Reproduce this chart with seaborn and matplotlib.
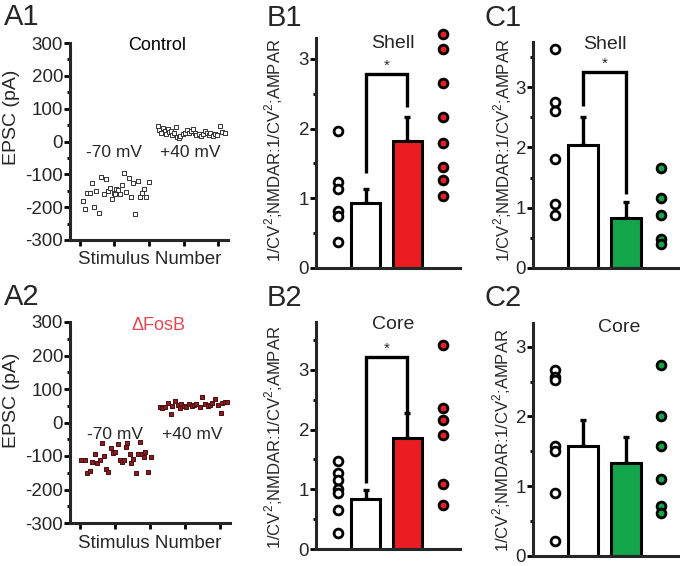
import numpy as np
import pandas as pd
import matplotlib
matplotlib.use("Agg")
import matplotlib.pyplot as plt
import seaborn as sns
from matplotlib.ticker import MultipleLocator, NullFormatter

sns.set_style("ticks")
plt.rcParams['font.family'] = ['Liberation Sans', 'DejaVu Sans']
plt.rcParams['mathtext.fontset'] = 'custom'
plt.rcParams['mathtext.rm'] = 'Liberation Sans'
plt.rcParams['axes.unicode_minus'] = False

# ==============================
# DATA
# ==============================
# A1 - control cell
ctrl_m70_stim = [1.3, 2.3, 3.2, 4.3, 5.4, 6.2, 7.1, 8.3, 9.1, 10.3, 11.2, 12.2, 13.0, 14.1,
                 14.9, 15.1, 15.7, 16.5, 17.5, 18.3, 19.0, 20.0, 21.2, 22.2, 23.0, 24.1,
                 25.2, 26.1, 26.9, 27.7, 28.5, 30.1]
ctrl_m70_epsc = [-180, -206, -156, -156, -127, -200, -151, -219, -109, -160, -114, -150, -142, -175,
                 -156, -160, -145, -149, -161, -132, -95, -153, -112, -168, -127, -220,
                 -119, -170, -156, -145, -170, -124]
ctrl_p40_stim = [33.9, 34.5, 35.4, 36.0, 36.8, 37.5, 38.3, 38.8, 39.7, 40.0, 40.7, 41.7, 42.3,
                 42.9, 43.6, 44.6, 45.5, 46.5, 47.2, 48.1, 49.0, 49.9, 50.6, 51.6, 52.5, 53.3,
                 54.2, 55.1, 55.9, 56.7, 57.7, 58.5, 59.7, 60.7, 61.7, 62.9]
ctrl_p40_epsc = [48, 35, 25, 40, 32, 23, 37, 28, 33, 20, 25, 45, 15,
                 10, 18, 23, 27, 35, 25, 32, 37, 25, 20, 23, 18, 22,
                 33, 27, 20, 25, 18, 23, 20, 48, 30, 25]

# A2 - deltaFosB cell
fosb_m70_stim = [0.6, 2.0, 3.2, 4.3, 5.2, 6.3, 7.2, 8.4, 9.4, 10.3, 11.3, 12.0, 13.2, 14.2,
                 15.2, 16.3, 17.2, 18.0, 18.9, 19.5, 20.3, 21.3, 22.0, 22.9, 24.0, 24.9,
                 25.6, 26.6, 27.3, 28.0, 29.2, 30.3]
fosb_m70_epsc = [-112, -112, -150, -144, -117, -94, -122, -112, -62, -100, -140, -147, -77, -90,
                 -87, -65, -112, -117, -112, -72, -62, -94, -120, -110, -152, -94,
                 -57, -94, -102, -89, -147, -102]
fosb_p40_stim = [34.2, 35.3, 36.3, 37.8, 38.9, 39.5, 40.6, 41.8, 42.8, 43.5, 44.6, 45.6, 46.6,
                 47.8, 48.9, 49.9, 51.4, 52.4, 53.5, 54.7, 55.7, 56.7, 57.8, 59.0, 60.4,
                 61.0, 62.1, 63.2]
fosb_p40_epsc = [45, 42, 47, 57, 25, 49, 65, 52, 42, 55, 49, 47, 55,
                 49, 52, 55, 47, 77, 55, 49, 52, 57, 69, 52, 27,
                 57, 62, 62]

# B/C - 1/CV2 ratios, individual cells
b1_ctrl = [1.96, 1.24, 1.14, 0.82, 0.74, 0.37]
b1_fosb = [3.36, 3.14, 2.65, 2.16, 1.79, 1.45, 1.26, 1.03]
b2_ctrl = [1.47, 1.27, 1.16, 1.00, 0.93, 0.66, 0.27]
b2_fosb = [3.42, 2.36, 2.16, 1.91, 1.08, 0.73]
c1_ctrl = [3.63, 2.75, 2.60, 1.81, 1.07, 0.88]
c1_gfp = [1.66, 1.16, 0.88, 0.48, 0.39]
c2_ctrl = [2.66, 2.57, 2.52, 1.57, 1.50, 0.90, 0.21]
c2_gfp = [2.74, 2.00, 1.57, 1.11, 0.71, 0.61]

# bar means and SEM
b1_mean = [0.93, 1.82]
b1_sem = [0.21, 0.34]
b2_mean = [0.84, 1.86]
b2_sem = [0.14, 0.42]
c1_mean = [2.04, 0.83]
c1_sem = [0.47, 0.26]
c2_mean = [1.57, 1.34]
c2_sem = [0.38, 0.36]

# significance brackets: (bracket height, left leg end, right leg end)
b1_sig = (2.78, 1.36, 2.31)
b2_sig = (3.22, 1.10, 2.28)
c1_sig = (3.26, 2.68, 1.22)

RED = '#ec1c24'
GREEN = '#12a54b'
DARKRED = '#8e1b20'

W, H = 680, 566
fig = plt.figure(figsize=(W / 100, H / 100), dpi=100)


def px_axes(left, top, right, bottom):
    return fig.add_axes([left / W, 1 - bottom / H, (right - left) / W, (bottom - top) / H])


def style_axes(ax):
    sns.despine(ax=ax)
    for s in ['left', 'bottom']:
        ax.spines[s].set_linewidth(2.2)
    ax.tick_params(axis='both', which='major', direction='out', length=4, width=2,
                   color='black', labelsize=13.5, pad=1)
    ax.tick_params(axis='both', which='minor', direction='out', length=2, width=2, color='black')


# ==============================
# A PANELS - EPSC vs stimulus
# ==============================
def epsc_panel(ax, m70x, m70y, p40x, p40y, face, edge, title, title_color):
    style_axes(ax)
    sns.scatterplot(x=m70x, y=m70y, ax=ax, marker='s', s=10, facecolor=face,
                    edgecolor=edge, linewidth=0.7, zorder=3)
    sns.scatterplot(x=p40x, y=p40y, ax=ax, marker='s', s=10, facecolor=face,
                    edgecolor=edge, linewidth=0.7, zorder=3)
    ax.set_ylim(-300, 300)
    ax.set_xlim(-4.3, 64.3)
    ax.yaxis.set_major_locator(MultipleLocator(100))
    ax.yaxis.set_minor_locator(MultipleLocator(50))
    ax.set_xticks([0, 15, 30, 45, 60])
    ax.xaxis.set_major_formatter(NullFormatter())
    ax.tick_params(axis='x', length=4)
    ax.set_xlabel('')
    ax.set_ylabel('')
    ax.text(15, -35, '-70 mV', ha='center', va='center', fontsize=12.5)
    ax.text(48, -35, '+40 mV', ha='center', va='center', fontsize=12.5)
    ax.text(0.55, 0.985, title, transform=ax.transAxes, ha='center', va='center',
            fontsize=13, color=title_color)


ax_a1 = px_axes(70, 43, 228, 240)
epsc_panel(ax_a1, ctrl_m70_stim, ctrl_m70_epsc, ctrl_p40_stim, ctrl_p40_epsc,
           'white', '#333333', 'Control', 'black')
ax_a2 = px_axes(70, 322, 230, 523)
epsc_panel(ax_a2, fosb_m70_stim, fosb_m70_epsc, fosb_p40_stim, fosb_p40_epsc,
           DARKRED, '#4a0d10', '\u0394FosB', '#e8464e')

fig.text(150 / W, 1 - 260 / H, 'Stimulus Number', ha='center', va='center', fontsize=13.5)
fig.text(150 / W, 1 - 543 / H, 'Stimulus Number', ha='center', va='center', fontsize=13.5)
fig.text(11 / W, 1 - 117 / H, 'EPSC (pA)', ha='center', va='center', rotation=90, fontsize=14)
fig.text(11 / W, 1 - 400 / H, 'EPSC (pA)', ha='center', va='center', rotation=90, fontsize=14)

# ==============================
# B / C PANELS - bars + cells
# ==============================
POS = [0.15, 0.345, 0.635, 0.88]
BAR_W = 0.205


def ratio_panel(ax, ctrl, treat, mean, sem, color, ymax, title, tx, ty, sig=None):
    style_axes(ax)
    ax.bar(POS[1:3], mean, width=BAR_W, color=['white', color], edgecolor='black',
           linewidth=2.2, zorder=2)
    ax.errorbar(POS[1:3], mean, yerr=[[0, 0], sem], fmt='none', ecolor='black',
                elinewidth=2.4, capsize=2.2, capthick=2.4, zorder=1)
    sns.scatterplot(x=[POS[0]] * len(ctrl), y=ctrl, ax=ax, s=40, facecolor='white',
                    edgecolor='black', linewidth=2, zorder=3, clip_on=False)
    sns.scatterplot(x=[POS[3]] * len(treat), y=treat, ax=ax, s=40, facecolor=color,
                    edgecolor='black', linewidth=2, zorder=3, clip_on=False)
    if sig is not None:
        h, l1, l2 = sig
        ax.plot([POS[1], POS[1], POS[2], POS[2]], [l1, h, h, l2], color='black',
                lw=2.4, solid_capstyle='butt', solid_joinstyle='miter')
        ax.text((POS[1] + POS[2]) / 2, h + 0.02, '*', ha='center', va='bottom', fontsize=11)
    ax.set_xlim(0, 1)
    ax.set_ylim(0, ymax)
    ax.set_xticks([])
    ax.yaxis.set_major_locator(MultipleLocator(1))
    ax.yaxis.set_minor_locator(MultipleLocator(0.5))
    ax.tick_params(axis='y', labelsize=13.5)
    ax.text(tx, ty, title, transform=ax.transAxes, ha='center', va='center', fontsize=14)


ax_b1 = px_axes(316, 38, 460, 268)
ratio_panel(ax_b1, b1_ctrl, b1_fosb, b1_mean, b1_sem, RED, 3.3, 'Shell', 0.535, 0.975, b1_sig)
ax_b2 = px_axes(316, 322, 460, 549)
ratio_panel(ax_b2, b2_ctrl, b2_fosb, b2_mean, b2_sem, RED, 3.8, 'Core', 0.535, 0.99, b2_sig)
ax_c1 = px_axes(533, 42, 679, 268)
ratio_panel(ax_c1, c1_ctrl, c1_gfp, c1_mean, c1_sem, GREEN, 3.75, 'Shell', 0.49, 0.99, c1_sig)
ax_c2 = px_axes(533, 323, 679, 556)
ratio_panel(ax_c2, c2_ctrl, c2_gfp, c2_mean, c2_sem, GREEN, 3.34, 'Core', 0.59, 0.98)

ylab = r'1/CV$^2$;NMDAR:1/CV$^2$;AMPAR'
for x, y in [(274, 150), (274, 437), (503, 150), (502, 440)]:
    fig.text(x / W, 1 - y / H, ylab, ha='center', va='center', rotation=90, fontsize=12)

# panel letters
for lab, x, y in [('A1', 4, 17), ('A2', 4, 297), ('B1', 267, 18), ('B2', 267, 298),
                  ('C1', 484, 18), ('C2', 484, 298)]:
    fig.text(x / W, 1 - y / H, lab, ha='left', va='center', fontsize=21)

fig.savefig("out.png", dpi=100)
